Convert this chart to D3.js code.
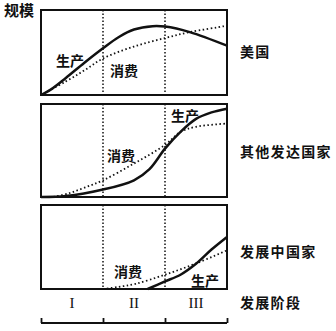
<!DOCTYPE html>
<html><head><meta charset="utf-8">
<script src="https://cdn.jsdelivr.net/npm/d3@7"></script>
<style>body{margin:0;background:#fff}svg{display:block}</style>
</head><body>
<script>
const stages = ["I", "II", "III"];
const countries = ["美国", "其他发达国家", "发展中国家"];
const yAxisLabel = "规模";
const xAxisLabel = "发展阶段";
// [stage position (0-3), scale (0-100)]
const usProduction = [[0,0],[0.15,6],[0.4,20],[0.7,38],[1,55],[1.25,68],[1.5,77],[1.8,81],[2,80.5],[2.4,74],[3,58]];
const usConsumption = [[0,0],[0.4,16],[0.7,29],[1,43],[1.5,57],[2,67],[2.4,74],[2.95,81],[3,82]];
const devProduction = [[0,0],[0.4,1],[1,8],[1.5,18],[1.75,30],[2,52],[2.25,70],[2.5,84],[2.75,91],[3,95]];
const devConsumption = [[0.2,0],[0.45,4],[0.7,10],[1,18],[1.5,36],[2,56],[2.25,70],[2.5,75.5],[3,79]];
const dcProduction = [[1.72,0],[2,9],[2.25,17],[2.5,30],[2.75,47],[3,62]];
const dcConsumption = [[1,0],[1.25,2.5],[1.52,6],[2,17],[2.52,31],[3,46]];

const W = 336, H = 331;
const svg = d3.select("body").append("svg").attr("width", W).attr("height", H);
const x = d3.scaleLinear().domain([0, 3]).range([41, 227]);
const panels = [
  {name: countries[0], top: 10, bottom: 95, prod: usProduction, cons: usConsumption, labelY: 57,
   prodLabel: [70, 66], consLabel: [124, 76]},
  {name: countries[1], top: 104, bottom: 197, prod: devProduction, cons: devConsumption, labelY: 157,
   prodLabel: [185, 121], consLabel: [121, 161]},
  {name: countries[2], top: 205, bottom: 289, prod: dcProduction, cons: dcConsumption, labelY: 257,
   prodLabel: [205, 286], consLabel: [128, 277]}
];
const cjk = "'Noto Sans CJK SC', sans-serif";

panels.forEach(p => {
  const y = d3.scaleLinear().domain([0, 100]).range([p.bottom, p.top]);
  const g = svg.append("g");
  [1, 2].forEach(s => {
    g.append("line").attr("x1", x(s)).attr("x2", x(s)).attr("y1", p.top).attr("y2", p.bottom)
      .attr("stroke", "#111").attr("stroke-width", 1.5).attr("stroke-dasharray", "1.5,2");
  });
  const line = d3.line().x(d => x(d[0])).y(d => y(d[1])).curve(d3.curveCatmullRom.alpha(0.5));
  g.append("path").datum(p.cons).attr("d", line).attr("fill", "none")
    .attr("stroke", "#111").attr("stroke-width", 1.8).attr("stroke-dasharray", "1.5,2.5");
  g.append("path").datum(p.prod).attr("d", line).attr("fill", "none")
    .attr("stroke", "#111").attr("stroke-width", 2.5);
  g.append("rect").attr("x", x(0)).attr("y", p.top).attr("width", x(3) - x(0)).attr("height", p.bottom - p.top)
    .attr("fill", "none").attr("stroke", "#111").attr("stroke-width", 2);
  g.append("text").attr("x", p.prodLabel[0]).attr("y", p.prodLabel[1]).attr("text-anchor", "middle")
    .attr("font-family", cjk).attr("font-weight", "bold").attr("font-size", 14).attr("fill", "#111").text("生产");
  g.append("text").attr("x", p.consLabel[0]).attr("y", p.consLabel[1]).attr("text-anchor", "middle")
    .attr("font-family", cjk).attr("font-weight", "bold").attr("font-size", 14).attr("fill", "#111").text("消费");
  g.append("text").attr("x", 240).attr("y", p.labelY)
    .attr("font-family", cjk).attr("font-weight", "bold").attr("font-size", 14).attr("letter-spacing", 1.3)
    .attr("fill", "#111").text(p.name);
});

svg.append("text").attr("x", 4).attr("y", 16).attr("font-family", cjk).attr("font-weight", "bold")
  .attr("font-size", 15).attr("fill", "#111").text(yAxisLabel);

svg.selectAll("text.stage").data(stages).join("text").attr("class", "stage")
  .attr("x", (d, i) => x(i + 0.5)).attr("y", 308).attr("text-anchor", "middle")
  .attr("font-family", "'Liberation Serif', serif").attr("font-size", 15).attr("fill", "#111").text(d => d);
svg.append("text").attr("x", 240).attr("y", 308).attr("font-family", cjk).attr("font-weight", "bold")
  .attr("font-size", 14).attr("letter-spacing", 1.3).attr("fill", "#111").text(xAxisLabel);

const axis = d3.axisTop(x).tickValues([0, 1, 2, 3]).tickSize(5).tickFormat("");
const ag = svg.append("g").attr("transform", "translate(0,323)").call(axis);
ag.selectAll("path,line").attr("stroke", "#111").attr("stroke-width", 1.8);
ag.select("path.domain").attr("d", `M${x(0)},0H${x(3)}`);
</script>
</body></html>
